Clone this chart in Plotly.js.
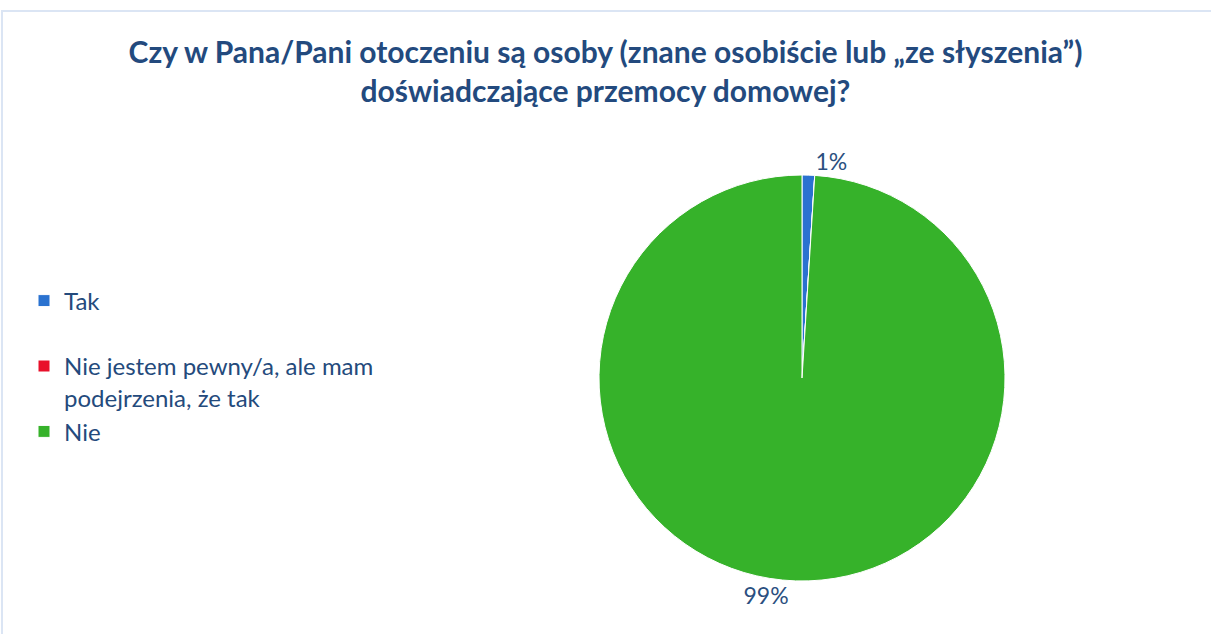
<!DOCTYPE html>
<html>
<head>
<meta charset="utf-8">
<script src="https://cdn.plot.ly/plotly-3.0.1.min.js"></script>
<style>
html,body{margin:0;padding:0;background:#fff;}
#chart{width:1211px;height:634px;}
</style>
</head>
<body>
<div id="chart"></div>
<script>
const categories = ["Tak<br> ", "Nie jestem pewny/a, ale mam<br>podejrzenia, że tak", "Nie"];
const values = [1, 0, 99];
const colors = ["#2a72d0", "#e8102a", "#36b22a"];
const titleText = "Czy w Pana/Pani otoczeniu są osoby (znane osobiście lub „ze słyszenia”)<br>doświadczające przemocy domowej?";

const W = 1211, H = 634;
const cx = 802, cy = 378, r = 203;

const trace = {
  type: "pie",
  labels: categories,
  values: values,
  sort: false,
  direction: "clockwise",
  rotation: 0,
  marker: {colors: colors, line: {color: "#ffffff", width: 1}},
  textposition: "outside",
  texttemplate: values.map(v => v > 0 ? "%{percent:.0%}" : ""),
  outsidetextfont: {family: "Lato, 'Open Sans', sans-serif", size: 23, color: "#2b4f80"},
  automargin: false,
  hoverinfo: "label+percent",
  domain: {x: [(cx - r) / W, (cx + r) / W], y: [1 - (cy + r) / H, 1 - (cy - r) / H]},
  showlegend: true
};

const layout = {
  width: W, height: H,
  margin: {l: 0, r: 0, t: 0, b: 0},
  paper_bgcolor: "#ffffff",
  title: {
    text: titleText,
    font: {family: "Lato, 'Open Sans', sans-serif", size: 30, color: "#234a7e", weight: "bold"},
    x: 0.5, xanchor: "center", y: 1 - 63 / H, yanchor: "middle"
  },
  legend: {
    x: 24 / W, xanchor: "left",
    y: 1 - 366 / H, yanchor: "middle",
    font: {family: "Lato, 'Open Sans', sans-serif", size: 24, color: "#244a7c"},
    traceorder: "normal",
    valign: "top",
    itemwidth: 30,
    bgcolor: "rgba(0,0,0,0)"
  },
  shapes: [{
    type: "rect", xref: "paper", yref: "paper",
    x0: 2 / W, x1: 1.01, y0: -0.01, y1: 1 - 11 / H,
    line: {color: "#dbe5f4", width: 2}, fillcolor: "rgba(0,0,0,0)"
  }]
};

Plotly.newPlot("chart", [trace], layout, {displayModeBar: false});
</script>
</body>
</html>
